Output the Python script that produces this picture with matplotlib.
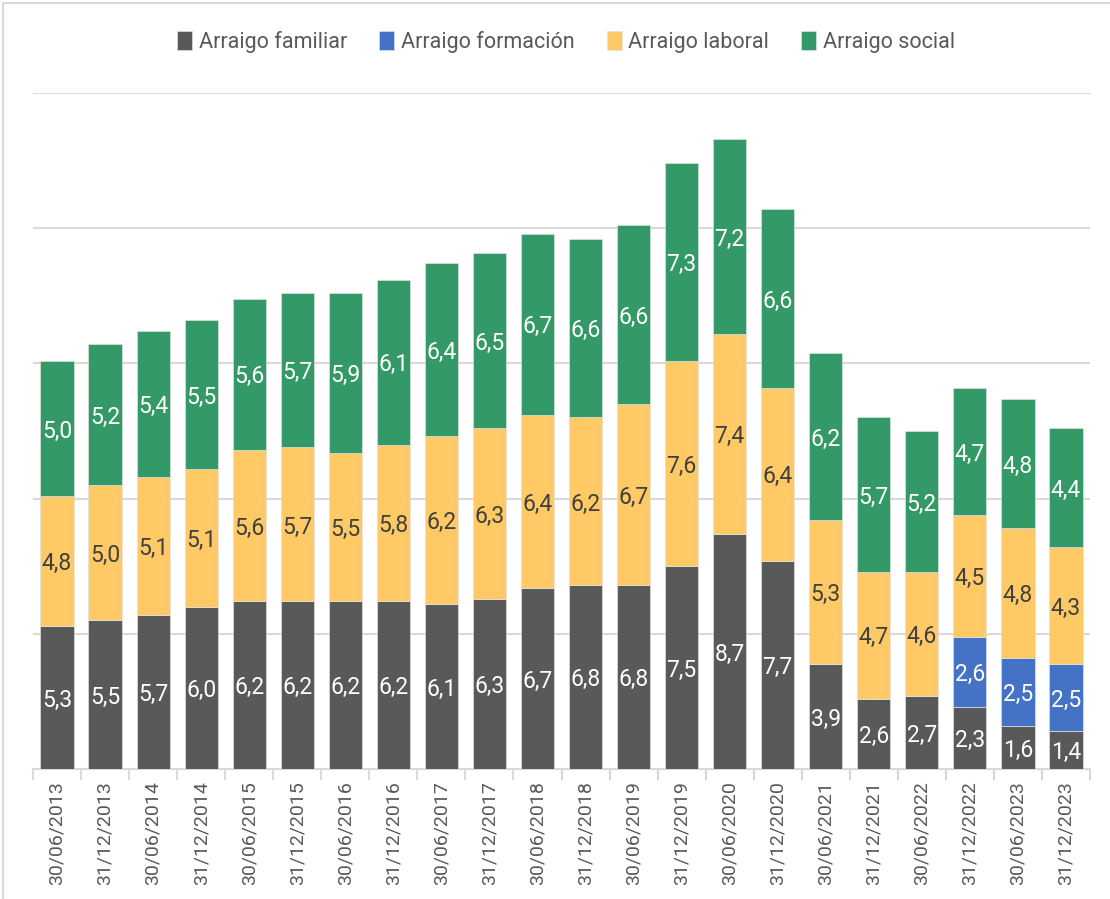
import matplotlib.pyplot as plt
import numpy as np
from matplotlib.patches import Rectangle

plt.rcParams['font.family'] = ['Roboto', 'DejaVu Sans']

fechas = ["30/06/2013", "31/12/2013", "30/06/2014", "31/12/2014", "30/06/2015",
          "31/12/2015", "30/06/2016", "31/12/2016", "30/06/2017", "31/12/2017",
          "30/06/2018", "31/12/2018", "30/06/2019", "31/12/2019", "30/06/2020",
          "31/12/2020", "30/06/2021", "31/12/2021", "30/06/2022", "31/12/2022",
          "30/06/2023", "31/12/2023"]

familiar = [5.3, 5.5, 5.7, 6.0, 6.2, 6.2, 6.2, 6.2, 6.1, 6.3, 6.7, 6.8, 6.8, 7.5,
            8.7, 7.7, 3.9, 2.6, 2.7, 2.3, 1.6, 1.4]
formacion = [0, 0, 0, 0, 0, 0, 0, 0, 0, 0, 0, 0, 0, 0, 0, 0, 0, 0, 0, 2.6, 2.5, 2.5]
laboral = [4.8, 5.0, 5.1, 5.1, 5.6, 5.7, 5.5, 5.8, 6.2, 6.3, 6.4, 6.2, 6.7, 7.6,
           7.4, 6.4, 5.3, 4.7, 4.6, 4.5, 4.8, 4.3]
social = [5.0, 5.2, 5.4, 5.5, 5.6, 5.7, 5.9, 6.1, 6.4, 6.5, 6.7, 6.6, 6.6, 7.3,
          7.2, 6.6, 6.2, 5.7, 5.2, 4.7, 4.8, 4.4]

series = [
    ("Arraigo familiar", familiar, "#595959", "white"),
    ("Arraigo formación", formacion, "#4472C4", "white"),
    ("Arraigo laboral", laboral, "#FFCA65", "#404040"),
    ("Arraigo social", social, "#339966", "white"),
]

fig = plt.figure(figsize=(11.1, 8.99), dpi=100)
ax = fig.add_axes([33 / 1110, 1 - 769 / 899, 1057 / 1110, 676 / 899])

# borde gris claro de la imagen
fig.patches.append(Rectangle((3 / 1110, -0.01), 1.1, 1 - 3 / 899 + 0.01,
                             transform=fig.transFigure, fill=False,
                             edgecolor="#d9d9d9", linewidth=1.5))

x = np.arange(len(fechas))
bottom = np.zeros(len(fechas))
for nombre, vals, color, tcolor in series:
    vals = np.array(vals)
    ax.bar(x, vals, 0.69, bottom=bottom, color=color, label=nombre,
           edgecolor="#e0e0e0", linewidth=0.5, zorder=3)
    for xi, b, v in zip(x, bottom, vals):
        if v > 0:
            ax.text(xi, b + v / 2 - 0.1, f"{v:.1f}".replace(".", ","), ha="center",
                    va="center", color=tcolor, fontsize=16.5, zorder=4)
    bottom = bottom + vals

ax.set_ylim(0, 25)
ax.set_xlim(-0.5, len(fechas) - 0.5)
ax.set_yticks([5, 10, 15, 20, 25])
ax.yaxis.grid(True, color="#d9d9d9", linewidth=1.5, zorder=0)
ax.tick_params(axis="y", left=False, labelleft=False)
ax.set_xticks(x)
ax.set_xticklabels(fechas, rotation=90, fontsize=14, color="#595959")
ax.set_xticks(np.arange(-0.5, len(fechas)), minor=True)
ax.tick_params(axis="x", which="major", length=0, pad=9)
ax.tick_params(axis="x", which="minor", length=8, color="#d9d9d9", width=1.5)
for s in ["top", "right", "left"]:
    ax.spines[s].set_visible(False)
ax.spines["bottom"].set_color("#d9d9d9")
ax.spines["bottom"].set_linewidth(1.5)

fig.legend(loc="center", bbox_to_anchor=(0.51, 1 - 42 / 899), ncol=4,
           frameon=False, fontsize=15.5, handlelength=0.7, handleheight=1.0,
           handletextpad=0.3, columnspacing=1.5, labelcolor="#595959")

fig.savefig("out.png", dpi=100)
